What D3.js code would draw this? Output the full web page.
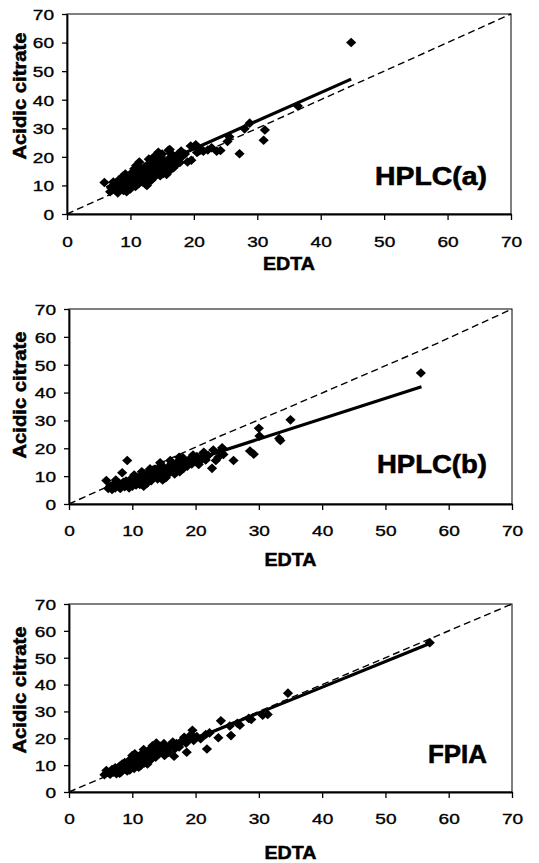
<!DOCTYPE html>
<html>
<head>
<meta charset="utf-8">
<script src="https://cdn.jsdelivr.net/npm/d3@7"></script>
<style>
  body { margin: 0; background: #fff; }
  svg { display: block; }
</style>
</head>
<body>
<div class="canvas"></div>
<script>
// axis ticks shared by all three panels
const ticks = [0, 10, 20, 30, 40, 50, 60, 70];
const xTitle = 'EDTA';
const yTitle = 'Acidic citrate';
const panelNames = ['HPLC(a)', 'HPLC(b)', 'FPIA'];

// HPLC(a): [EDTA, acidic citrate]
const hplcA = [
  [44.8, 60.0], [36.4, 37.8], [28.8, 31.8], [28.0, 29.8], [31.2, 29.4], [31.0, 25.8],
  [27.2, 21.1], [25.6, 27.0], [25.3, 25.4], [24.2, 22.2], [23.6, 22.0], [22.2, 22.4],
  [21.2, 22.6], [20.3, 24.2], [19.5, 23.8], [19.0, 18.2], [19.6, 18.8], [18.6, 21.0],
  [16.4, 21.2], [16.0, 22.3], [13.8, 20.2], [11.4, 18.2], [12.6, 10.0], [5.9, 11.0],
  [17.2, 19.5], [17.8, 18.0], [18.2, 20.2], [20.5, 21.5], [21.5, 22.0], [22.8, 23.2],
  [6.8, 7.8], [7.0, 9.5], [7.3, 11.2], [7.6, 8.4], [7.9, 10.3], [8.0, 7.4], [8.2, 12.0],
  [8.4, 9.0], [8.6, 11.0], [8.8, 13.2], [8.9, 8.2], [9.1, 10.0], [9.2, 14.0], [9.4, 12.2],
  [9.6, 9.0], [9.7, 11.5], [9.9, 13.0], [10.1, 10.2], [10.2, 12.6], [10.3, 14.6],
  [10.5, 11.0], [10.7, 13.2], [10.8, 9.6], [11.0, 12.0], [11.1, 14.2], [11.3, 10.6],
  [11.6, 16.0], [11.7, 12.6], [11.9, 11.2], [12.0, 15.0], [12.2, 13.2], [12.4, 10.4],
  [12.5, 14.2], [12.6, 17.0], [12.8, 12.2], [13.0, 15.6], [13.1, 13.0], [13.3, 11.8],
  [13.4, 14.6], [13.6, 17.4], [13.7, 12.8], [13.9, 16.2], [14.0, 13.8], [14.1, 18.6],
  [14.3, 15.0], [14.5, 16.4], [14.6, 19.2], [14.7, 13.4], [14.9, 17.6], [15.1, 15.2],
  [15.2, 14.2], [15.4, 18.2], [15.6, 16.6], [15.7, 13.8], [15.9, 19.0], [16.1, 17.2],
  [16.3, 15.4], [16.5, 18.6], [16.8, 16.2], [17.0, 20.0], [17.3, 17.4], [7.5, 10.6],
  [8.3, 10.8], [9.0, 11.8], [10.0, 8.8], [11.4, 13.8], [12.2, 16.4], [13.2, 18.2],
  [14.8, 20.0], [10.6, 15.8], [9.4, 7.8], [8.6, 9.8], [15.0, 21.0], [16.6, 20.6],
  [18.0, 22.0], [17.6, 21.2], [12.9, 19.2], [10.9, 17.0], [14.4, 21.6], [16.2, 22.6]
];

// HPLC(b)
const hplcB = [
  [55.6, 47.0], [35.0, 30.2], [30.0, 27.2], [30.1, 24.4], [33.2, 23.5], [33.4, 22.8],
  [28.6, 19.0], [29.2, 17.9], [26.0, 15.6], [22.6, 12.8], [24.2, 20.2], [24.4, 17.8],
  [23.6, 16.8], [22.8, 19.4], [21.2, 18.2], [20.6, 15.2], [9.2, 15.6], [8.4, 11.2],
  [5.9, 8.4], [7.4, 8.6], [14.8, 8.6],
  [6.2, 5.6], [6.5, 6.4], [6.8, 5.2], [7.0, 7.0], [7.3, 5.8], [7.6, 6.6], [7.9, 7.4],
  [8.1, 5.6], [8.3, 6.8], [8.6, 7.8], [8.8, 6.2], [9.0, 8.2], [9.2, 7.0], [9.5, 5.8],
  [9.6, 8.6], [9.8, 7.4], [10.0, 6.4], [10.2, 9.0], [10.4, 7.8], [10.6, 6.8], [10.8, 9.4],
  [11.0, 8.2], [11.2, 7.0], [11.4, 10.2], [11.6, 8.6], [11.8, 6.4], [12.0, 9.6],
  [12.2, 8.0], [12.4, 11.0], [12.6, 9.2], [12.8, 10.4], [13.0, 8.4], [13.2, 11.6],
  [13.4, 9.8], [13.6, 12.4], [13.8, 10.6], [14.0, 9.0], [14.2, 13.0], [14.4, 11.4],
  [14.6, 14.0], [14.8, 10.0], [15.0, 12.2], [15.3, 9.4], [15.6, 13.0], [15.9, 11.2],
  [16.2, 14.6], [16.4, 12.4], [16.7, 10.8], [17.0, 13.6], [17.3, 15.4], [17.5, 11.6],
  [17.8, 14.0], [18.1, 12.8], [18.4, 15.0], [18.7, 13.6], [19.0, 16.0], [19.4, 14.4],
  [19.8, 15.6], [20.2, 17.0], [20.5, 14.2], [20.9, 16.2], [21.3, 18.6], [21.6, 15.8],
  [22.0, 17.4], [11.5, 11.6], [12.3, 7.4], [10.3, 10.4], [16.0, 15.6], [18.0, 16.6],
  [23.8, 18.8], [23.2, 15.6], [14.4, 14.8], [12.8, 12.6], [17.4, 16.8], [19.6, 17.6]
];

// FPIA
const fpia = [
  [57.0, 55.6], [34.6, 36.8], [24.0, 26.5], [23.6, 20.2], [25.6, 21.0], [21.8, 16.0],
  [18.6, 14.8], [19.5, 23.0], [16.6, 13.3], [30.6, 28.6], [28.4, 27.4], [27.0, 24.9],
  [13.8, 18.2], [10.4, 14.2], [28.8, 27.0], [31.4, 28.9],
  [5.6, 6.4], [5.9, 8.0], [6.2, 7.2], [6.5, 6.6], [6.8, 8.4], [7.0, 7.4], [7.3, 9.0],
  [7.5, 6.8], [7.8, 8.0], [8.0, 9.6], [8.2, 7.4], [8.4, 10.4], [8.6, 8.6], [8.8, 11.0],
  [9.0, 9.2], [9.2, 7.8], [9.4, 10.6], [9.6, 12.0], [9.8, 9.4], [10.1, 11.2], [10.3, 8.8],
  [10.5, 12.4], [10.7, 10.2], [10.9, 13.2], [11.1, 11.6], [11.3, 9.8], [11.5, 14.2],
  [11.7, 12.2], [11.9, 10.8], [12.1, 15.0], [12.3, 13.0], [12.5, 11.4], [12.7, 14.4],
  [12.9, 16.2], [13.1, 12.4], [13.5, 14.8], [13.7, 13.0], [13.9, 16.0], [14.2, 14.2],
  [14.5, 17.0], [14.8, 15.2], [15.1, 13.6], [15.4, 16.4], [15.7, 14.8], [16.0, 17.4],
  [16.7, 16.0], [17.0, 18.0], [17.4, 16.8], [17.8, 19.0], [18.5, 18.2], [18.9, 20.0],
  [19.3, 21.4], [19.7, 19.2], [20.2, 20.6], [20.8, 19.8], [21.6, 21.4], [22.2, 22.0],
  [25.4, 24.6], [8.0, 7.0], [9.6, 8.2], [11.0, 9.2], [12.4, 10.4], [10.0, 13.6],
  [11.8, 15.8], [13.2, 17.2], [15.0, 18.0], [16.4, 18.6], [18.2, 20.4], [26.6, 25.6]
];

// regression lines (solid) and line of identity (dashed), in data units
const fitA = [[6.2, 9.2], [44.8, 47.2]];
const fitB = [[5.8, 5.6], [55.7, 42.1]];
const fitF = [[5.4, 5.9], [57.0, 55.3]];
const refA = [[0, 0], [70, 70]];
const refB = [[0, 0], [24, 24.5], [34, 34], [56, 55.5], [58, 57.5], [70, 70]];
const refF = [[0, 0], [70, 70]];

// page layout of each panel
const panels = [
  { pts: hplcA, fit: fitA, ref: refA, name: panelNames[0], left: 67, right: 511, top: 14, bottom: 214,
    tickBase: 247, titleBase: 270, yMid: 96, nameBase: 185, nameLen: 112 },
  { pts: hplcB, fit: fitB, ref: refB, name: panelNames[1], left: 69, right: 512, top: 309, bottom: 504,
    tickBase: 536, titleBase: 566, yMid: 395, nameBase: 473, nameLen: 110 },
  { pts: fpia, fit: fitF, ref: refF, name: panelNames[2], left: 69, right: 512, top: 604, bottom: 792,
    tickBase: 824, titleBase: 859, yMid: 690, nameBase: 763, nameLen: 59 }
];

const font = 'Arial, "Liberation Sans", sans-serif';
const diamond = 'M0,-4.8L5.1,0L0,4.8L-5.1,0Z';

const svg = d3.select('.canvas').append('svg')
    .attr('width', 539)
    .attr('height', 863);

panels.forEach(p => {
  const x = d3.scaleLinear().domain([0, 70]).range([p.left, p.right]);
  const y = d3.scaleLinear().domain([0, 70]).range([p.bottom, p.top]);
  const line = d3.line().x(d => x(d[0])).y(d => y(d[1]));
  const g = svg.append('g');

  g.append('rect')
      .attr('x', p.left).attr('y', p.top)
      .attr('width', p.right - p.left).attr('height', p.bottom - p.top)
      .attr('fill', 'none').attr('stroke', '#000').attr('stroke-width', 1);

  g.append('path').datum(p.ref)
      .attr('d', line)
      .attr('fill', 'none').attr('stroke', '#000')
      .attr('stroke-width', 1.4).attr('stroke-dasharray', '7,4');

  g.selectAll('.pt').data(p.pts).join('path')
      .attr('class', 'pt')
      .attr('transform', d => `translate(${x(d[0])},${y(d[1])})`)
      .attr('d', diamond)
      .attr('fill', '#000');

  g.append('path').datum(p.fit)
      .attr('d', line)
      .attr('fill', 'none').attr('stroke', '#000').attr('stroke-width', 3.2);

  // axes
  g.append('g')
      .attr('transform', `translate(0,${p.bottom})`)
      .call(d3.axisBottom(x).tickValues(ticks).tickSize(6).tickSizeOuter(0))
      .call(a => a.select('.domain').attr('stroke-width', 1.8))
      .call(a => a.selectAll('.tick line').attr('stroke-width', 1.3))
      .call(a => a.selectAll('text')
          .attr('y', p.tickBase - p.bottom).attr('dy', 0)
          .attr('font-family', font).attr('font-size', 15).attr('fill', '#000')
          .attr('stroke', '#000').attr('stroke-width', 0.35)
          .attr('textLength', d => String(d).length * 10.6)
          .attr('lengthAdjust', 'spacingAndGlyphs'));

  g.append('g')
      .attr('transform', `translate(${p.left},0)`)
      .call(d3.axisLeft(y).tickValues(ticks).tickSize(5).tickSizeOuter(0))
      .call(a => a.select('.domain').attr('stroke-width', 1.8))
      .call(a => a.selectAll('.tick line').attr('stroke-width', 1.3))
      .call(a => a.selectAll('text')
          .attr('x', -13).attr('dy', '0.36em')
          .attr('font-family', font).attr('font-size', 15).attr('fill', '#000')
          .attr('stroke', '#000').attr('stroke-width', 0.35)
          .attr('textLength', d => String(d).length * 10.6)
          .attr('lengthAdjust', 'spacingAndGlyphs'));

  // titles
  g.append('text')
      .attr('x', (p.left + p.right) / 2).attr('y', p.titleBase)
      .attr('text-anchor', 'middle')
      .attr('font-family', font).attr('font-weight', 'bold').attr('font-size', 18)
      .attr('stroke', '#000').attr('stroke-width', 0.5)
      .attr('textLength', 52).attr('lengthAdjust', 'spacingAndGlyphs')
      .text(xTitle);

  g.append('text')
      .attr('transform', `translate(26,${p.yMid}) rotate(-90)`)
      .attr('text-anchor', 'middle')
      .attr('font-family', font).attr('font-weight', 'bold').attr('font-size', 18)
      .attr('stroke', '#000').attr('stroke-width', 0.5)
      .attr('textLength', 127).attr('lengthAdjust', 'spacingAndGlyphs')
      .text(yTitle);

  g.append('text')
      .attr('x', 487).attr('y', p.nameBase)
      .attr('text-anchor', 'end')
      .attr('font-family', font).attr('font-weight', 'bold').attr('font-size', 26)
      .attr('stroke', '#000').attr('stroke-width', 0.6)
      .attr('textLength', p.nameLen).attr('lengthAdjust', 'spacingAndGlyphs')
      .text(p.name);
});
</script>
</body>
</html>
